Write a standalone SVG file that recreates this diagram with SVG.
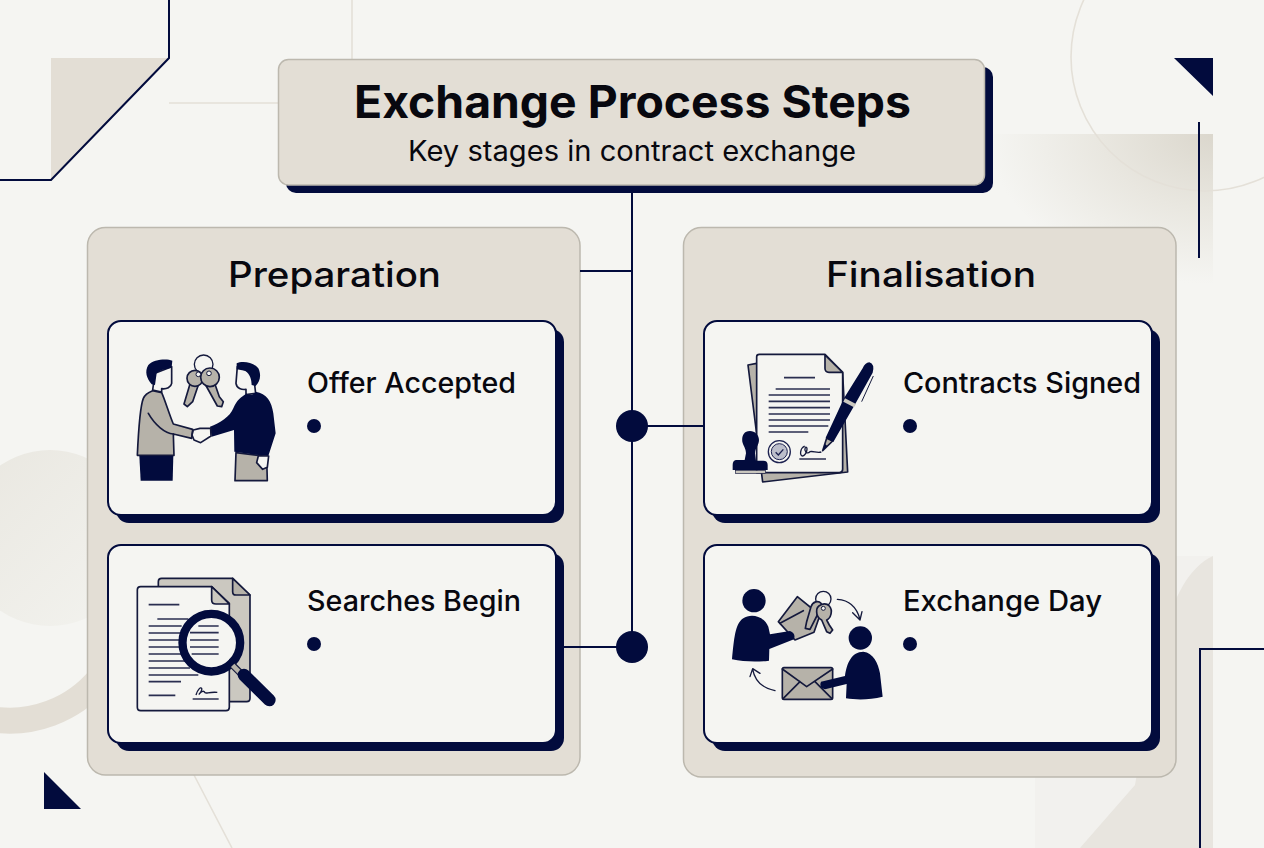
<svg xmlns="http://www.w3.org/2000/svg" width="1264" height="848" viewBox="0 0 1264 848">
<style>
text{font-family:"Inter","Liberation Sans",sans-serif;fill:#08080f}
.title{font-size:45px;font-weight:700;text-anchor:middle}
.sub{font-size:28px;font-weight:400;text-anchor:middle}
.ph{font-size:35px;font-weight:500;text-anchor:middle}
.ct{font-size:28px;font-weight:500}
.navy{fill:#020b3d}
.pf{fill:#e3ded5;stroke:#bcb8ae;stroke-width:1.5}
.cf{fill:#f5f5f2;stroke:#020b3d;stroke-width:2}
.lnk{stroke:#020b3d;stroke-width:2;fill:none}
.faint{stroke:#e4e0d8;stroke-width:1.6;fill:none}
.i{stroke:#14193c;stroke-width:5;stroke-linejoin:round;stroke-linecap:round}
.g{fill:#b6b2a9}
.lg{fill:#cbc8c0}
.w{fill:#f5f5f2}
.d{fill:#020b3d}
.l{fill:none;stroke:#2a2e50;stroke-width:5}
</style>
<defs>
<radialGradient id="wash" gradientUnits="userSpaceOnUse" cx="0" cy="0" r="1" gradientTransform="translate(1213 134) scale(225 150)">
<stop offset="0" stop-color="#dbd7cd"/><stop offset="0.5" stop-color="#e9e7e0"/><stop offset="1" stop-color="#f5f5f2"/>
</radialGradient>
<linearGradient id="disc" x1="0" y1="0" x2="1" y2="1">
<stop offset="0" stop-color="#e9e7e0"/><stop offset="1" stop-color="#f3f3ef"/>
</linearGradient>
</defs>
<rect width="1264" height="848" fill="#f5f5f2"/>

<!-- backdrop shapes -->
<g id="backdrop">
<rect x="988" y="134" width="225" height="150" fill="url(#wash)"/>
<rect x="1035" y="556" width="178" height="292" fill="#f2f1ee"/>
<path d="M1080,848 L1135,785 C1150,700 1160,580 1213,556 V848 Z" fill="#e8e5df"/>
<circle cx="1205" cy="57" r="134" class="faint"/>
<circle cx="50" cy="538" r="88" fill="url(#disc)"/>
<path d="M-10,719 A117,117 0 0 0 100,678" fill="none" stroke="#e3ded5" stroke-width="26"/>
<path d="M51,58 H168 L51,180 Z" fill="#e3ded5"/>
<path d="M169,0 V58 L51,180 H0" class="lnk"/>
<path d="M352,0 V60 M169,103 H279 M194,775 L232,848" class="faint"/>
<path d="M1174,58 H1213 V96 Z M44,772 L81,809 H44 Z" class="navy"/>
<path d="M1199,122 V258" class="lnk"/>
<path d="M1200,848 V649 H1264" class="lnk"/>
</g>

<g id="header">
<rect x="286" y="67" width="707" height="126" rx="10" class="navy"/>
<rect x="278.500" y="59.500" width="706" height="125.500" rx="10" class="pf" stroke-width="1"/>
<text x="632.500" y="118" class="title" textLength="557" lengthAdjust="spacingAndGlyphs">Exchange Process Steps</text>
<text x="632" y="161" class="sub" textLength="448" lengthAdjust="spacingAndGlyphs">Key stages in contract exchange</text>
</g>

<g id="panel-preparation">
<rect x="87.500" y="227.500" width="492.500" height="547.500" rx="18" class="pf"/>
<text x="334.500" y="287" class="ph" textLength="213" lengthAdjust="spacingAndGlyphs">Preparation</text>
</g>
<g id="panel-finalisation">
<rect x="683.500" y="227.500" width="492.500" height="549.500" rx="18" class="pf"/>
<text x="931" y="287" class="ph" textLength="210" lengthAdjust="spacingAndGlyphs">Finalisation</text>
</g>

<!-- connectors -->
<g id="connectors">
<path d="M632,193 V647 M580,271 H632 M632,426 H704 M564,647 H632" class="lnk"/>
<circle cx="632" cy="426" r="16" class="navy"/>
<circle cx="632" cy="647" r="16" class="navy"/>
</g>

<g id="card-offer">
<rect x="116" y="329" width="448" height="194" rx="13" class="navy"/>
<rect x="108" y="321" width="448" height="194" rx="13" class="cf"/>
<text x="307" y="393" class="ct" textLength="209" lengthAdjust="spacingAndGlyphs">Offer Accepted</text>
<circle cx="314" cy="426" r="7" class="navy"/>
<g transform="translate(110,330) scale(.3333)">
<path class="i g" d="M128,182 L155,188 C165,210 180,260 190,282 L248,298 L245,325 L190,312 L192,376 L82,376 C85,310 90,230 100,205 C105,192 118,186 128,182 Z"/>
<path class="i" fill="none" d="M115,250 C135,285 165,310 190,312"/>
<path class="d" d="M88,378 H190 L188,452 H92 Z"/>
<path class="i w" d="M185,110 L185,160 C183,172 170,178 155,176 L155,186 L128,180 L135,130 Z"/>
<path class="d" d="M187,92 C170,85 130,88 115,105 C103,125 110,145 125,163 L135,165 L140,130 C150,118 175,118 185,112 Z"/>
<path class="i g" d="M378,368 L445,376 L470,380 L472,452 H375 Z"/>
<path class="i w" d="M382,110 L378,160 C380,175 395,180 408,178 L408,194 L437,190 L430,130 Z"/>
<path class="d" d="M380,100 C395,92 430,95 445,115 C455,135 450,155 437,168 L425,165 C425,150 420,130 405,122 L380,118 Z"/>
<path class="d" d="M408,192 C420,198 430,195 437,185 C470,190 485,215 490,250 L497,310 L475,378 L445,375 L373,365 L372,300 L305,320 L300,290 C330,280 360,260 370,235 C380,210 395,200 408,192 Z"/>
<path class="i w" d="M445,378 L476,378 L472,412 L458,418 L440,398 Z"/>
<path class="i w" d="M250,300 L270,295 L302,295 L303,318 L272,338 L252,330 L246,315 Z"/>
<circle cx="281" cy="103" r="28" fill="#f5f5f2" stroke="#14193c" stroke-width="4"/>
<path class="i g" d="M240,162 L222,222 L232,230 L248,215 L264,168 Z"/>
<circle cx="255" cy="145" r="24" class="i g"/>
<path class="i g" d="M287,165 L322,228 L335,230 L340,215 L328,200 L314,160 Z"/>
<circle cx="300" cy="142" r="28" class="i g"/>
<circle cx="265" cy="133" r="7" fill="#f5f5f2" stroke="#14193c" stroke-width="3"/>
<circle cx="297" cy="130" r="7" fill="#f5f5f2" stroke="#14193c" stroke-width="3"/>
</g>
</g>

<g id="card-searches">
<rect x="116" y="553" width="448" height="198" rx="13" class="navy"/>
<rect x="108" y="545" width="448" height="198" rx="13" class="cf"/>
<text x="307" y="611" class="ct" textLength="214" lengthAdjust="spacingAndGlyphs">Searches Begin</text>
<circle cx="314" cy="644" r="7" class="navy"/>
<g transform="translate(110,560) scale(.3333)">
<path class="i lg" d="M145,65 Q145,55 155,55 H368 L420,105 V415 Q420,425 410,425 H350 L145,200 Z"/>
<path class="i g" d="M368,55 V95 Q368,105 378,105 H420 Z"/>
<path class="i w" d="M82,90 Q82,80 92,80 H305 L358,130 V442 Q358,452 348,452 H92 Q82,452 82,442 Z"/>
<path class="i lg" d="M305,80 V120 Q305,132 318,132 H358 Z"/>
<path class="l" d="M116,134 H208 M142,177 H235 M116,198 H215 M116,219 H215 M116,240 H215 M116,261 H215 M116,282 H225 M116,303 H232 M116,324 H240 M116,345 H265 M116,365 H213 M116,406 H196 M248,417 H326"/>
<path fill="none" stroke="#14193c" stroke-width="4" d="M258,405 C262,390 272,380 275,385 C278,392 265,405 268,402 C275,392 282,392 285,398 C290,402 295,395 322,397"/>
<circle cx="304" cy="248" r="74" fill="#f5f5f2"/>
<path class="l" d="M265,198 H326 M240,218 H326 M240,240 H326 M240,261 H326 M245,282 H326"/>
<circle cx="304" cy="248" r="86.500" fill="none" stroke="#020b3d" stroke-width="25"/>
<path stroke="#14193c" stroke-width="21" d="M368,316 L392,340"/>
<path stroke="#b6b2a9" stroke-width="14" d="M368,316 L392,340"/>
<path stroke="#020b3d" stroke-width="38" stroke-linecap="round" d="M402,345 L478,420"/>
</g>
</g>

<g id="card-contracts">
<rect x="712" y="329" width="448" height="194" rx="13" class="navy"/>
<rect x="704" y="321" width="448" height="194" rx="13" class="cf"/>
<text x="903" y="393" class="ct" textLength="238" lengthAdjust="spacingAndGlyphs">Contracts Signed</text>
<circle cx="910" cy="426" r="7" class="navy"/>
<g transform="translate(710,340) scale(.3333)">
<path class="i g" d="M114,75 L140,70 L398,100 L413,396 L158,426 Z"/>
<path class="i w" d="M140,50 Q140,43 148,43 H345 L398,97 V388 Q398,398 388,398 H140 Z"/>
<path class="i g" d="M345,45 V85 Q345,97 357,97 H398 Z"/>
<path class="l" d="M222,113 H315 M197,147 H360 M176,165 H360 M176,184 H360 M176,203 H360 M176,222 H360 M176,240 H360 M176,258 H355 M176,276 H295 M268,357 H348"/>
<circle cx="208" cy="335" r="33" fill="#f5f5f2" stroke="#1c2150" stroke-width="4"/>
<circle cx="208" cy="335" r="24" fill="#bcbecb" stroke="#1c2150" stroke-width="3"/>
<path d="M197,337 L205,345 L220,328" fill="none" stroke="#1c2150" stroke-width="4"/>
<path fill="none" stroke="#14193c" stroke-width="4" d="M284,318 C270,325 268,348 278,348 C290,345 296,318 286,322 C282,332 290,345 300,335 C310,332 320,340 334,336"/>
<path d="M338,332 L350,295 L368,303 Z" class="i g" stroke-width="3"/>
<path d="M338,332 L345,312 L352,318 Z" class="d"/>
<path class="d" d="M347,293 L370,306 L437,190 L488,98 Q495,72 478,67 Q465,68 458,85 L402,175 Z"/>
<path d="M405,175 L438,192 L432,202 L400,185 Z" fill="#cbc8c0"/>
<path d="M490,108 L455,185" fill="none" stroke="#14193c" stroke-width="3"/>
<path class="d" d="M120,273 C100,273 95,290 97,305 C100,318 108,325 108,340 L104,360 H78 Q68,362 68,375 V390 H173 V375 Q173,362 160,362 H138 L135,340 C135,325 147,315 147,300 C147,285 135,273 120,273 Z"/>
<rect x="77" y="391" width="90" height="9" fill="#cbc8c0" stroke="#14193c" stroke-width="2"/>
</g>
</g>

<g id="card-exchange">
<rect x="712" y="553" width="448" height="198" rx="13" class="navy"/>
<rect x="704" y="545" width="448" height="198" rx="13" class="cf"/>
<text x="903" y="611" class="ct" textLength="199" lengthAdjust="spacingAndGlyphs">Exchange Day</text>
<circle cx="910" cy="644" r="7" class="navy"/>
<g transform="translate(710,570) scale(.3333)">
<path class="i g" d="M205,155 L262,80 L330,135 L312,187 L255,210 Z"/>
<path class="i" fill="none" d="M210,160 L280,122"/>
<circle cx="132" cy="92" r="35" class="d"/>
<path class="d" d="M66,268 C72,210 75,160 100,145 C120,130 160,135 175,170 L180,193 L240,183 Q258,190 252,208 L178,237 L177,272 C140,277 100,275 66,268 Z"/>
<circle cx="340" cy="87" r="23" fill="#f5f5f2" stroke="#14193c" stroke-width="4"/>
<path class="i g" d="M303,110 C308,95 325,90 333,100 C340,110 332,125 322,135 L300,178 L286,175 L290,155 Z"/>
<path class="i g" d="M320,125 C318,105 345,95 358,108 C370,122 362,145 350,150 L358,165 L368,180 L360,190 L350,185 L335,150 C325,145 320,135 320,125 Z"/>
<circle cx="340" cy="115" r="6" fill="#f5f5f2" stroke="#14193c" stroke-width="3"/>
<path fill="none" stroke="#14193c" stroke-width="4" stroke-linecap="round" stroke-linejoin="round" d="M382,88 C415,90 440,110 450,148 M428,128 L450,150 L456,125 M195,362 C160,355 135,335 128,298 M120,320 L128,296 L150,310"/>
<rect x="217" y="293" width="151" height="95" rx="5" class="i g"/>
<path class="i" fill="none" d="M217,297 L290,350 L368,297 M220,385 L270,335 M365,385 L315,335"/>
<circle cx="451" cy="204" r="35" class="d"/>
<path class="d" d="M408,385 L410,342 L345,358 Q325,352 333,335 L405,318 C410,280 425,245 460,245 C490,248 505,280 510,310 L518,380 C480,390 440,390 408,385 Z"/>
</g>
</g>
</svg>
